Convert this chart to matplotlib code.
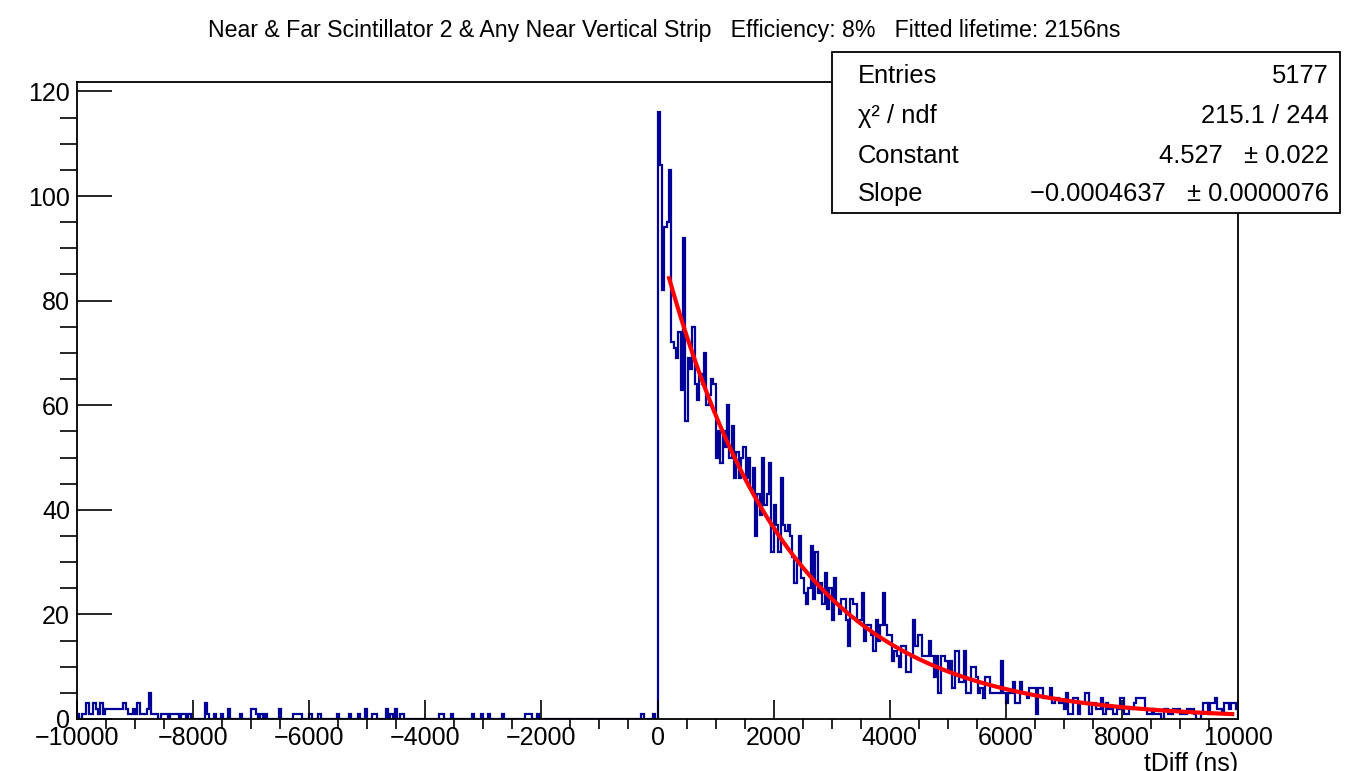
import matplotlib
matplotlib.use("Agg")
import matplotlib.pyplot as plt
from matplotlib.patches import Rectangle
from matplotlib.ticker import MultipleLocator
import numpy as np

plt.rcParams['font.family'] = ['Liberation Sans', 'DejaVu Sans']

# histogram: 500 bins of 40 ns from -10000 to 10000
x_lo, x_hi, n_bins = -10000, 10000, 500

neg_counts = [
    1,0,1,1,3,1,1,3,2,1,3,1,2,2,2,2,2,2,2,2,3,2,1,1,2,
    1,3,1,1,1,2,5,1,1,1,0,1,1,1,0,1,1,1,1,0,1,1,0,1,0,
    0,0,0,0,0,3,1,0,0,1,0,0,1,0,0,2,0,0,0,0,1,0,0,0,0,
    2,2,1,0,1,0,1,0,0,0,0,0,2,0,0,0,0,0,1,1,1,1,0,0,0,
    1,0,0,0,1,0,0,0,0,0,0,0,1,0,0,0,0,1,0,0,0,1,0,0,2,
    0,0,1,1,0,0,0,0,2,0,1,0,2,0,1,1,0,0,0,0,0,0,0,0,0,
    0,0,0,0,0,0,1,1,0,0,0,1,0,0,0,0,0,0,0,0,1,0,0,0,1,
    0,0,1,0,0,0,0,0,1,0,0,0,0,0,0,0,0,0,1,1,1,0,0,1,0,
    0,0,0,0,0,0,0,0,0,0,0,0,0,0,0,0,0,0,0,0,0,0,0,0,0,
    0,0,0,0,0,0,0,0,0,0,0,0,0,0,0,0,0,0,1,0,0,0,0,1,0,
]

pos_counts = [
    116,106,82,94,95,105,72,71,69,74,63,92,57,69,67,75,64,61,66,64,
    70,60,62,65,64,50,55,49,55,52,60,50,56,46,51,46,50,52,46,50,
    44,48,35,43,39,50,41,43,49,32,41,37,32,46,37,36,37,35,31,26,
    30,35,27,24,22,25,33,23,32,24,26,22,28,21,25,19,27,22,20,23,
    23,19,14,23,22,22,19,19,24,15,18,18,16,13,19,15,18,24,18,16,
    16,11,13,12,10,14,14,9,9,12,19,14,16,16,12,12,12,15,12,8,
    12,5,12,12,11,9,11,6,13,13,7,7,13,5,5,10,10,8,5,6,
    4,8,8,5,5,5,5,5,11,5,3,5,5,7,3,3,7,5,5,4,
    6,6,6,1,6,6,4,4,4,6,3,4,4,3,3,2,5,1,1,4,
    4,1,3,3,5,5,1,3,3,2,2,4,1,3,2,2,1,1,2,4,
    4,1,1,2,2,3,4,4,4,4,2,1,1,2,1,1,1,0,2,2,
    1,1,2,2,2,1,1,1,2,2,2,1,0,0,1,3,3,1,3,3,
    4,2,2,1,3,3,2,3,3,2,
]

counts = np.array(neg_counts + pos_counts)
edges = np.linspace(x_lo, x_hi, n_bins + 1)

# exponential fit from stats box
fit_const = 4.527
fit_slope = -0.0004637
fit_lo, fit_hi = 200, 9900

title = ("Near & Far Scintillator 2 & Any Near Vertical Strip   "
         "Efficiency: 8%   Fitted lifetime: 2156ns")
stats_rows = [("Entries", "5177"),
              ("χ² / ndf", "215.1 / 244"),
              ("Constant", "4.527   ± 0.022"),
              ("Slope", "−0.0004637   ± 0.0000076")]

fig = plt.figure(figsize=(13.6, 7.71), dpi=100)
ax = fig.add_axes([77/1360, 1-719/771, (1238-77)/1360, (719-82)/771])

ax.stairs(counts, edges, color="#000099", lw=1.6)
xf = np.linspace(fit_lo, fit_hi, 300)
ax.plot(xf, np.exp(fit_const + fit_slope*xf), color="red", lw=3)

ax.set_xlim(x_lo, x_hi)
ax.set_ylim(0, 1.05*counts.max())

ax.xaxis.set_major_locator(MultipleLocator(2000))
ax.xaxis.set_minor_locator(MultipleLocator(500))
ax.yaxis.set_major_locator(MultipleLocator(20))
ax.yaxis.set_minor_locator(MultipleLocator(5))
ax.tick_params(direction="in", top=False, right=False, labelsize=18, width=1.2)
ax.xaxis.set_tick_params(which="major", length=14, pad=5)
ax.xaxis.set_tick_params(which="minor", length=7, width=1.2)
ax.yaxis.set_tick_params(which="major", length=25, pad=5)
ax.yaxis.set_tick_params(which="minor", length=12.5, width=1.2)
for s in ax.spines.values():
    s.set_linewidth(1.3)

fig.text(1238/1360, 1-752/771, "tDiff (ns)", ha="right", va="top", fontsize=18)
fig.text(664/1360, 1-31/771, title, ha="center", va="center", fontsize=16.7)

box = Rectangle((832/1360, 1-213/771), (1340-832)/1360, (213-52)/771,
                transform=fig.transFigure, facecolor="white", edgecolor="black",
                lw=1.3, zorder=5)
fig.add_artist(box)
for ypix, (lab, val) in zip([76, 116, 156, 194], stats_rows):
    fig.text(858/1360, 1-ypix/771, lab, ha="left", va="center", fontsize=18.4, zorder=6)
    fig.text(1329/1360, 1-ypix/771, val, ha="right", va="center", fontsize=18.4, zorder=6)

fig.savefig("out.png", dpi=100)
